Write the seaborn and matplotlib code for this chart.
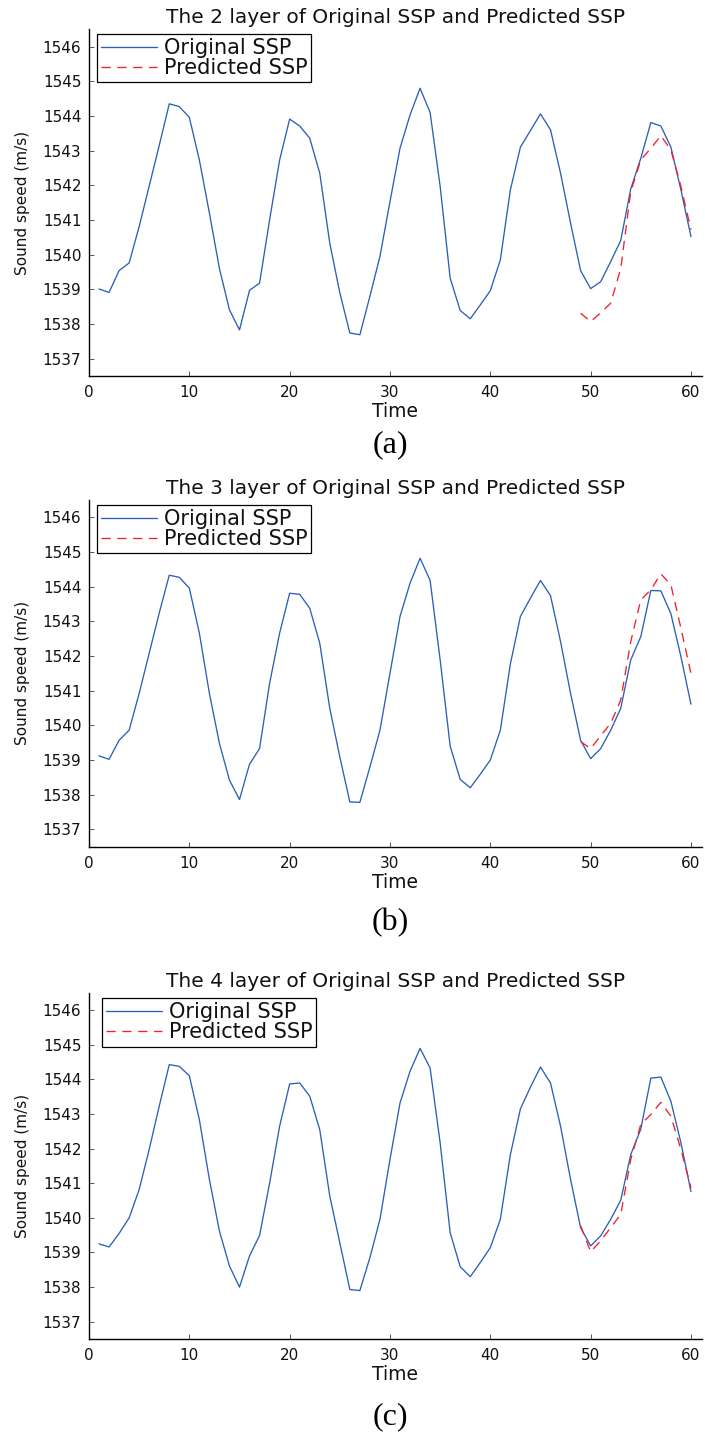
import numpy as np
import pandas as pd
import matplotlib
matplotlib.use("Agg")
import matplotlib.pyplot as plt
import seaborn as sns

# Time steps and sound-speed series for layers 2, 3 and 4
time = list(range(1, 61))
pred_time = list(range(49, 61))

layer2_original = [1539.01, 1538.91, 1539.54, 1539.76, 1540.81, 1541.98, 1543.15, 1544.35, 1544.27, 1543.96,
                   1542.73, 1541.20, 1539.60, 1538.41, 1537.83, 1538.97, 1539.18, 1541.00, 1542.73, 1543.91,
                   1543.71, 1543.36, 1542.35, 1540.33, 1538.90, 1537.74, 1537.69, 1538.80, 1539.95, 1541.53,
                   1543.07, 1544.03, 1544.80, 1544.10, 1541.97, 1539.32, 1538.39, 1538.15, 1538.55, 1538.96,
                   1539.85, 1541.87, 1543.10, 1543.58, 1544.06, 1543.60, 1542.35, 1540.91, 1539.54, 1539.02,
                   1539.22, 1539.80, 1540.41, 1541.90, 1542.78, 1543.81, 1543.71, 1543.10, 1541.87, 1540.52]
layer2_predicted = [1538.31, 1538.07, 1538.32, 1538.60, 1539.60, 1541.82, 1542.73, 1543.07, 1543.43, 1543.02,
                    1541.97, 1540.72]

layer3_original = [1539.12, 1539.02, 1539.57, 1539.86, 1540.92, 1542.08, 1543.24, 1544.33, 1544.27, 1543.96,
                   1542.66, 1540.92, 1539.48, 1538.42, 1537.86, 1538.88, 1539.33, 1541.21, 1542.66, 1543.81,
                   1543.78, 1543.38, 1542.37, 1540.49, 1539.09, 1537.79, 1537.78, 1538.80, 1539.86, 1541.50,
                   1543.14, 1544.10, 1544.82, 1544.18, 1541.89, 1539.40, 1538.44, 1538.20, 1538.59, 1539.00,
                   1539.86, 1541.77, 1543.14, 1543.67, 1544.18, 1543.74, 1542.42, 1540.92, 1539.57, 1539.04,
                   1539.33, 1539.86, 1540.49, 1541.89, 1542.56, 1543.89, 1543.88, 1543.22, 1541.98, 1540.61]
layer3_predicted = [1539.53, 1539.33, 1539.70, 1540.06, 1540.73, 1542.42, 1543.62, 1543.91, 1544.37, 1544.05,
                    1542.80, 1541.50]

layer4_original = [1539.25, 1539.16, 1539.55, 1540.00, 1540.82, 1541.98, 1543.23, 1544.43, 1544.38, 1544.11,
                   1542.84, 1541.11, 1539.62, 1538.61, 1538.00, 1538.90, 1539.49, 1541.00, 1542.65, 1543.87,
                   1543.90, 1543.52, 1542.55, 1540.63, 1539.28, 1537.93, 1537.90, 1538.85, 1539.96, 1541.69,
                   1543.32, 1544.24, 1544.90, 1544.33, 1542.17, 1539.57, 1538.59, 1538.30, 1538.71, 1539.14,
                   1539.96, 1541.83, 1543.15, 1543.78, 1544.36, 1543.90, 1542.65, 1541.11, 1539.72, 1539.19,
                   1539.48, 1539.96, 1540.51, 1541.83, 1542.57, 1544.04, 1544.07, 1543.37, 1542.17, 1540.76]
layer4_predicted = [1539.77, 1539.02, 1539.34, 1539.72, 1540.10, 1541.69, 1542.70, 1542.99, 1543.34, 1542.94,
                    1541.98, 1540.87]

layer_numbers = [2, 3, 4]
panel_tags = ["(a)", "(b)", "(c)"]
x_ticks = [0, 10, 20, 30, 40, 50, 60]
y_ticks = list(range(1537, 1547))

sns.set_style("white")
plt.rcParams["font.family"] = ["DejaVu Sans"]

BLUE = "#2b5fb8"
RED = "#f0202a"

W, H = 705, 1437
fig = plt.figure(figsize=(W / 100, H / 100), dpi=100)

# axes boxes in pixels: (left, top, right, bottom)
boxes = [(89, 29.3, 702, 376), (89, 500, 702, 846.7), (89, 993, 702, 1339)]
legend_anchor = [(0.013, 0.986), (0.013, 0.986), (0.021, 0.985)]
tag_y = [445, 923, 1417]

series = [(layer2_original, layer2_predicted),
          (layer3_original, layer3_predicted),
          (layer4_original, layer4_predicted)]

for i, ((orig, pred), (l, t, r, b)) in enumerate(zip(series, boxes)):
    ax = fig.add_axes([l / W, 1 - b / H, (r - l) / W, (b - t) / H])
    df_o = pd.DataFrame({"Time": time, "Sound speed": orig})
    df_p = pd.DataFrame({"Time": pred_time, "Sound speed": pred})
    sns.lineplot(data=df_o, x="Time", y="Sound speed", ax=ax, color=BLUE,
                 linewidth=0.95, label="Original SSP")
    sns.lineplot(data=df_p, x="Time", y="Sound speed", ax=ax, color=RED,
                 linewidth=0.95, dashes=False, linestyle=(0, (7, 5)), label="Predicted SSP")

    ax.set_xlim(0, 61.1)
    ax.set_ylim(1536.5, 1546.5)
    ax.set_xticks(x_ticks)
    ax.set_yticks(y_ticks)
    ax.tick_params(bottom=True, left=True, direction="in", length=3.5, width=0.7,
                   color="#555555", labelsize=11, pad=5.5, labelcolor="#111111")
    ax.tick_params(axis="x", pad=6.5)
    for side in ["top", "right"]:
        ax.spines[side].set_visible(False)
    for side in ["left", "bottom"]:
        ax.spines[side].set_color("black")
        ax.spines[side].set_linewidth(1.0)

    ax.set_title(f"The {layer_numbers[i]} layer of Original SSP and Predicted SSP",
                 fontsize=14.5, pad=4.5, color="#111111")
    ax.set_xlabel("Time", fontsize=13.5, labelpad=1.5, color="#111111")
    ax.set_ylabel("Sound speed (m/s)", fontsize=11, labelpad=9, color="#111111")

    leg = ax.legend(loc="upper left", bbox_to_anchor=legend_anchor[i], borderaxespad=0,
                    fontsize=15, handlelength=2.7, handletextpad=0.3, labelspacing=0.0,
                    borderpad=0.2, fancybox=False, framealpha=1, edgecolor="black")
    leg.get_frame().set_linewidth(0.9)
    for txt in leg.get_texts():
        txt.set_color("#111111")

    fig.text(0.5 * (l + r) / W - 0.007, 1 - tag_y[i] / H, panel_tags[i], ha="center", va="center",
             fontsize=23, family="Liberation Serif", color="black")

fig.savefig("out.png", dpi=100, facecolor="white")
